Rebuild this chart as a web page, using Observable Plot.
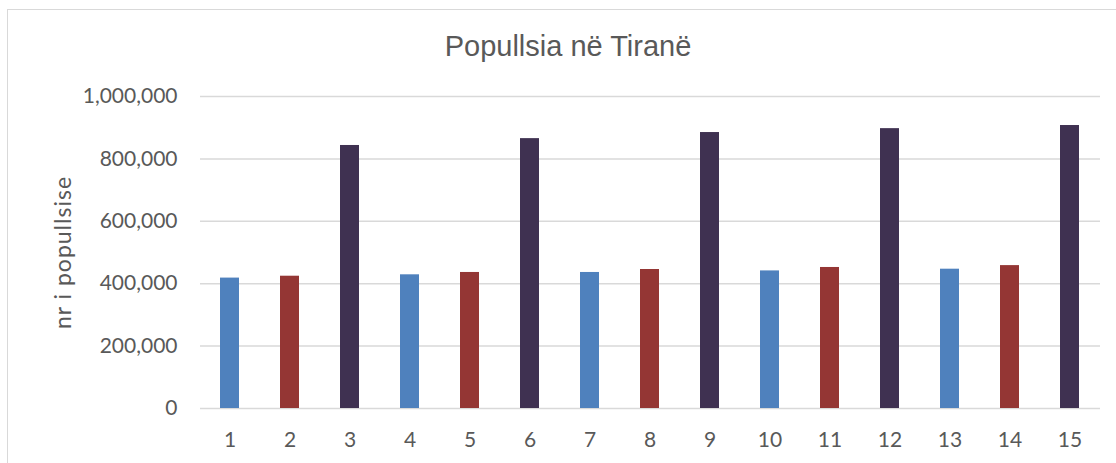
<!DOCTYPE html>
<html>
<head>
<meta charset="utf-8">
<script src="https://cdn.jsdelivr.net/npm/d3@7"></script>
<script src="https://cdn.jsdelivr.net/npm/@observablehq/plot@0.6"></script>
<style>
  html, body { margin: 0; padding: 0; background: #fff; }
  #wrap { position: relative; width: 1116px; height: 463px; overflow: hidden; background: #fff; }
  #border { position: absolute; left: 7px; top: 9px; width: 1200px; height: 600px;
            border-left: 1.5px solid #d9d9d9; border-top: 1.5px solid #d9d9d9; }
  #title { position: absolute; left: 0; top: 32px; width: 1136px; text-align: center;
           font-family: "Liberation Sans", Arial, sans-serif; font-size: 29px; line-height: 29px;
           color: #595959; }
  #chart { position: absolute; left: 0; top: 70px; }
  .ylab text { letter-spacing: 1px; }
</style>
</head>
<body>
<div id="wrap">
  <div id="border"></div>
  <div id="title">Popullsia në Tiranë</div>
  <div id="chart"></div>
</div>
<script>
const categories = ["1","2","3","4","5","6","7","8","9","10","11","12","13","14","15"];
const values = [418000, 424000, 843000, 428500, 436000, 865000, 436000, 445500, 884500, 441000, 452000, 897000, 446500, 458000, 907000];
const seriesNames = ["A","B","C","A","B","C","A","B","C","A","B","C","A","B","C"];
const seriesColors = ["#4F81BD", "#943634", "#3F3151"];
const yTicks = [0, 200000, 400000, 600000, 800000, 1000000];
const yLabel = "nr i popullsise";

const data = categories.map((c, i) => ({cat: c, value: values[i], series: seriesNames[i]}));

const plot = Plot.plot({
  width: 1116,
  height: 393,
  marginTop: 26,
  marginBottom: 55,
  marginLeft: 200,
  marginRight: 16,
  style: {fontFamily: "Lato, sans-serif", fontSize: "21px", color: "#595959", background: "transparent"},
  x: {domain: categories, paddingInner: 0.683, paddingOuter: 0.3415, label: null},
  y: {domain: [0, 1000000], ticks: yTicks, label: null},
  color: {domain: ["A","B","C"], range: seriesColors},
  marks: [
    Plot.ruleY(yTicks, {stroke: "#d9d9d9", strokeWidth: 1.5}),
    Plot.barY(data, {x: "cat", y: "value", fill: "series"}),
    Plot.axisY({ticks: yTicks, tickSize: 0, tickPadding: 23, tickFormat: d3.format(","), label: null, fill: "#595959"}),
    Plot.axisX({tickSize: 0, tickPadding: 24, label: null, fill: "#595959"}),
    Plot.text([yLabel], {frameAnchor: "left", dx: -137, rotate: -90, textAnchor: "middle", lineAnchor: "middle",
      fill: "#595959", fontSize: 23, text: d => d, className: "ylab"})
  ]
});
document.getElementById("chart").appendChild(plot);
</script>
</body>
</html>
